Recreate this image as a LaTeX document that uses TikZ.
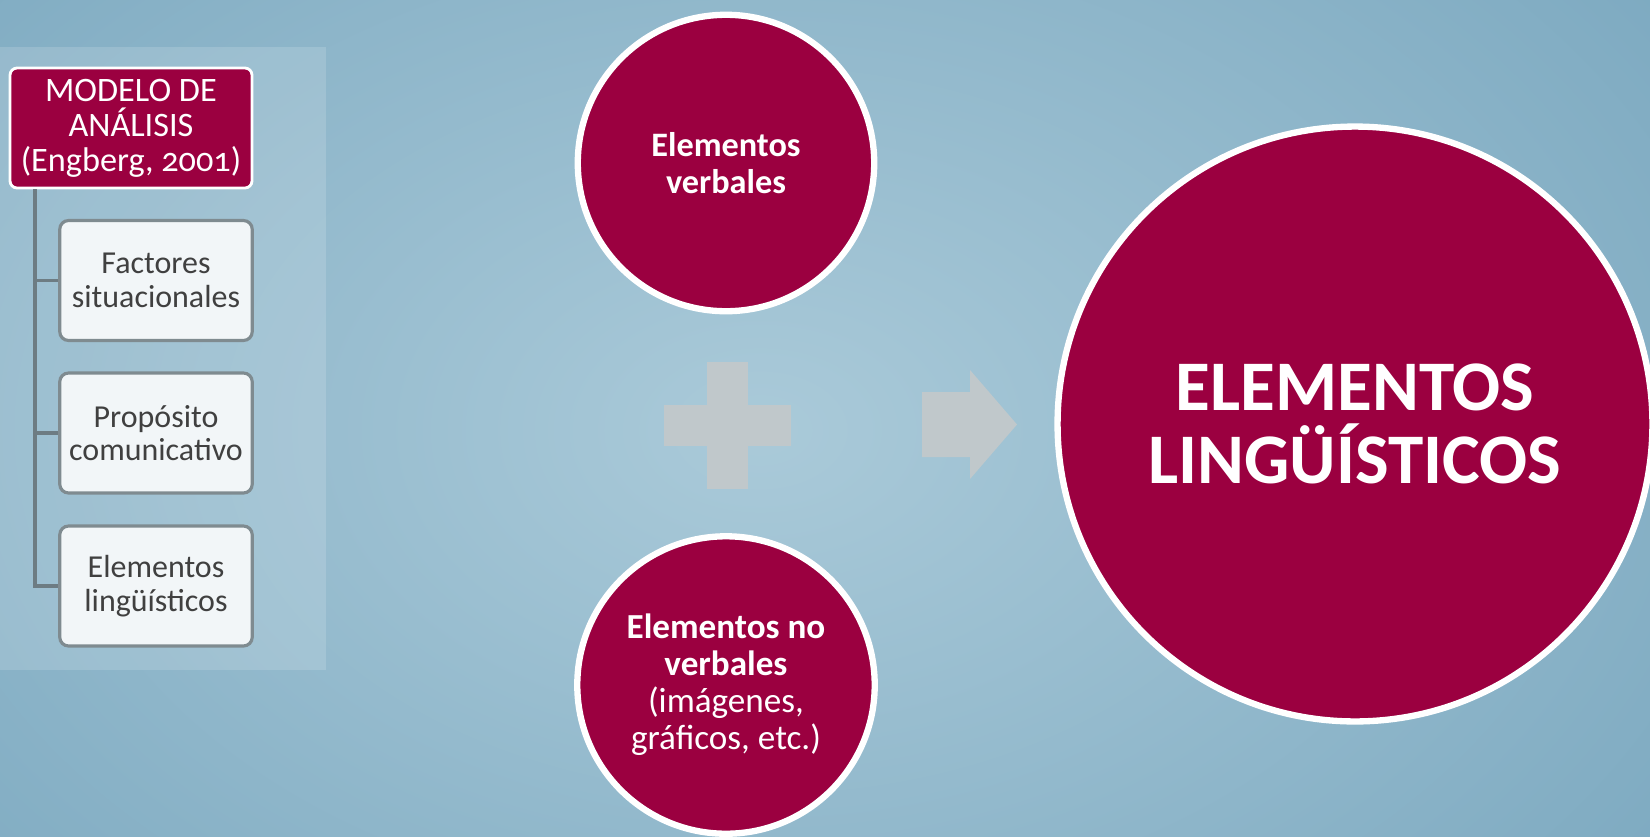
\documentclass[tikz,border=0pt]{standalone}
\usepackage{fontspec}
\setmainfont{Carlito}
\usetikzlibrary{positioning}
\definecolor{bgin}{HTML}{AACAD9}
\definecolor{bgout}{HTML}{6699B4}
\definecolor{wine}{HTML}{9B0040}
\definecolor{plusgrey}{HTML}{C0C8CB}
\definecolor{boxfill}{HTML}{F2F6F8}
\definecolor{boxline}{HTML}{7F8B90}
\definecolor{treeline}{HTML}{6D7C83}
\definecolor{txtgrey}{HTML}{404040}
\tikzset{
  disc/.style={circle, fill=wine, draw=white, line width=3.6pt, text=white, align=center, inner sep=0pt},
  headbox/.style={rectangle, rounded corners=4pt, fill=wine, draw=white, line width=1.6pt, text=white,
    align=center, minimum width=4.84cm, minimum height=2.4cm, inner sep=1pt, font=\fontsize{19.5}{20}\selectfont},
  itembox/.style={rectangle, rounded corners=5pt, fill=boxfill, draw=boxline, line width=1.8pt, text=txtgrey,
    align=center, minimum width=3.85cm, minimum height=2.4cm, font=\fontsize{18.2}{19}\selectfont},
  tree/.style={draw=treeline, line width=2pt},
  greyshape/.style={fill=plusgrey}
}
\begin{document}
\begin{tikzpicture}[x=0.02cm,y=-0.02cm]
\useasboundingbox (0,0) rectangle (1650,836);
\begin{scope}
\clip (0,0) rectangle (1650,836);
\fill[bgout] (0,0) rectangle (1650,836);
\shade[inner color=bgin, outer color=bgout] (760,430) ellipse (1700 and 1150);
\end{scope}
% left panel
\fill[white, opacity=0.15] (0,47) rectangle (326,670);
\coordinate (t0) at (35,0);
\node[headbox] (model) at (131,128) {MODELO DE\\ANÁLISIS\\(Engberg, {\addfontfeatures{Numbers=OldStyle}2001})};
\node[itembox] (fact) at (156,280.5) {Factores\\situacionales};
\node[itembox] (prop) at (156,433) {Propósito\\comunicativo};
\node[itembox] (ling) at (156,586) {Elementos\\lingüísticos};
\draw[tree] (model.south -| t0) |- (ling.west);
\draw[tree] (t0 |- fact.west) -- (fact.west);
\draw[tree] (t0 |- prop.west) -- (prop.west);
% circles
\node[disc, minimum size=5.93cm, font=\bfseries\fontsize{19.5}{21}\selectfont] (verb) at (726,163) {Elementos\\verbales};
\node[disc, minimum size=5.95cm, font=\fontsize{20}{21}\selectfont] (noverb) at (726,685)
  {\textbf{Elementos no}\\\textbf{verbales}\\(imágenes,\\gráficos, etc.)};
\node[disc, minimum size=11.9cm, font=\bfseries\fontsize{40.5}{42}\selectfont] (result) at (1355,424)
  {ELEMENTOS\\LINGÜÍSTICOS};
% plus and arrow
\fill[greyshape] (664,405) rectangle (791,446);
\fill[greyshape] (707,362) rectangle (748,489);
\fill[greyshape] (922,392) -- (970,392) -- (970,370) -- (1017,424.5) -- (970,479) -- (970,457) -- (922,457) -- cycle;
\end{tikzpicture}
\end{document}
